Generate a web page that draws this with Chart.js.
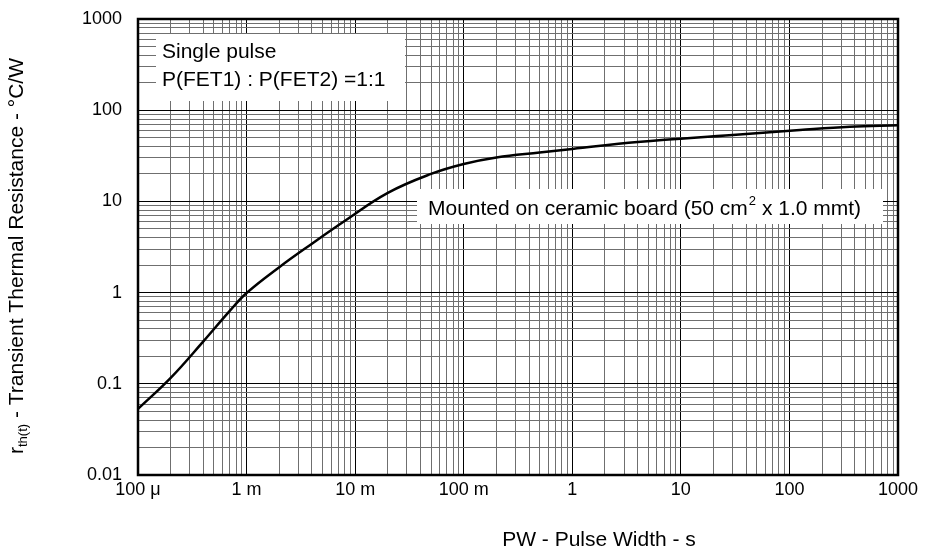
<!DOCTYPE html>
<html>
<head>
<meta charset="utf-8">
<script src="https://cdn.jsdelivr.net/npm/chart.js@4/dist/chart.umd.min.js"></script>
<style>
  html, body { margin: 0; padding: 0; background: #fff; }
  #wrap { width: 928px; height: 551px; }
</style>
</head>
<body>
<div id="wrap"><canvas id="chart"></canvas></div>
<script>
// curve (s, °C/W)
const pulseWidth = [1e-4, 2e-4, 4e-4, 7e-4, 1e-3, 2e-3, 4e-3, 8e-3, 0.02, 0.05, 0.1, 0.2, 0.5, 1, 4, 30, 125, 360, 1000];
const thermalRes = [0.053, 0.116, 0.292, 0.63, 0.99, 1.9, 3.44, 6.1, 12.4, 20.0, 25.7, 30.3, 34.4, 37.6, 44.8, 53.5, 60.7, 65.9, 68.2];

const xDecades = [1e-4, 1e-3, 0.01, 0.1, 1, 10, 100, 1000];
const xTickLabels = ['100 μ', '1 m', '10 m', '100 m', '1', '10', '100', '1000'];
const yDecades = [0.01, 0.1, 1, 10, 100, 1000];
const yTickLabels = ['0.01', '0.1', '1', '10', '100', '1000'];

const FONT = "'Liberation Sans', Arial, sans-serif";
Chart.defaults.font.family = FONT;
Chart.defaults.color = '#000';

function logTicks(decades) {
  const out = [];
  for (let i = 0; i < decades.length; i++) {
    const d = decades[i];
    out.push({ value: d });
    if (i < decades.length - 1) {
      for (let k = 2; k <= 9; k++) out.push({ value: k * d });
    }
  }
  return out;
}

function isDecade(v) {
  const l = Math.log10(v);
  return Math.abs(l - Math.round(l)) < 1e-6;
}

function labelFor(v, decades, labels) {
  for (let i = 0; i < decades.length; i++) {
    if (Math.abs(v / decades[i] - 1) < 1e-6) return labels[i];
  }
  return '';
}

function gridColor(ctx) {
  if (!ctx.tick) return '#000';
  return isDecade(ctx.tick.value) ? '#000' : '#6f6f6f';
}

const decor = {
  id: 'decor',
  beforeDatasetsDraw(chart) {
    const c = chart.ctx;
    c.save();
    c.fillStyle = '#fff';
    c.fillRect(156, 34, 249, 67);
    c.fillRect(417, 189, 466, 35);
    c.fillStyle = '#000';
    c.font = '21px ' + FONT;
    c.textBaseline = 'middle';
    c.textAlign = 'left';
    c.fillText('Single pulse', 162, 52);
    c.fillText('P(FET1) : P(FET2) =1:1', 162, 80);
    // mounted on ... with superscript 2
    let x = 428;
    const y = 209;
    const a = 'Mounted on ceramic board (50 cm';
    c.fillText(a, x, y);
    x += c.measureText(a).width;
    c.font = '13px ' + FONT;
    c.fillText('2', x + 1, y - 8);
    x += c.measureText('2').width + 1;
    c.font = '21px ' + FONT;
    c.fillText(' x 1.0 mmt)', x, y);
    c.restore();
  },
  afterDatasetsDraw(chart) {
    const c = chart.ctx;
    const a = chart.chartArea;
    c.save();
    c.strokeStyle = '#000';
    c.lineWidth = 2.5;
    c.strokeRect(a.left, a.top, a.right - a.left, a.bottom - a.top);
    c.restore();
  },
  afterDraw(chart) {
    const c = chart.ctx;
    c.save();
    c.fillStyle = '#000';
    // x title
    c.font = '21px ' + FONT;
    c.textAlign = 'center';
    c.textBaseline = 'middle';
    c.fillText('PW - Pulse Width - s', 599, 540);
    // y title, rotated, with subscript
    c.translate(23, 256);
    c.rotate(-Math.PI / 2);
    c.textAlign = 'left';
    c.textBaseline = 'alphabetic';
    const big = '21px ' + FONT, small = '13px ' + FONT;
    const p1 = 'r', sub = 'th(t)', p2 = ' - Transient Thermal Resistance - °C/W';
    c.font = big; const w1 = c.measureText(p1).width, w3 = c.measureText(p2).width;
    c.font = small; const w2 = c.measureText(sub).width;
    let x = -(w1 + w2 + w3) / 2;
    c.font = big; c.fillText(p1, x, 0); x += w1;
    c.font = small; c.fillText(sub, x, 4); x += w2;
    c.font = big; c.fillText(p2, x, 0);
    c.restore();
  }
};

new Chart(document.getElementById('chart'), {
  type: 'line',
  data: {
    datasets: [{
      data: pulseWidth.map((x, i) => ({ x: x, y: thermalRes[i] })),
      borderColor: '#000',
      borderWidth: 2.5,
      pointRadius: 0,
      tension: 0.4,
      fill: false
    }]
  },
  options: {
    responsive: true,
    maintainAspectRatio: false,
    animation: false,
    layout: { padding: { top: 19, right: 30, left: 0, bottom: 0 } },
    plugins: { legend: { display: false }, tooltip: { enabled: false } },
    scales: {
      x: {
        type: 'logarithmic',
        min: 1e-4,
        max: 1000,
        afterBuildTicks: s => { s.ticks = logTicks(xDecades); },
        afterFit: s => { s.height = 76; s.paddingLeft = 0; s.paddingRight = 0; },
        ticks: {
          autoSkip: false,
          maxRotation: 0,
          padding: 4,
          font: { size: 18 },
          callback: v => labelFor(v, xDecades, xTickLabels)
        },
        grid: { color: gridColor, lineWidth: 1, drawTicks: false },
        border: { display: false }
      },
      y: {
        type: 'logarithmic',
        min: 0.01,
        max: 1000,
        afterBuildTicks: s => { s.ticks = logTicks(yDecades); },
        afterFit: s => { s.width = 138; s.paddingTop = 0; s.paddingBottom = 0; },
        ticks: {
          autoSkip: false,
          padding: 16,
          font: { size: 18 },
          callback: v => labelFor(v, yDecades, yTickLabels)
        },
        grid: { color: gridColor, lineWidth: 1, drawTicks: false },
        border: { display: false }
      }
    }
  },
  plugins: [decor]
});
</script>
</body>
</html>
